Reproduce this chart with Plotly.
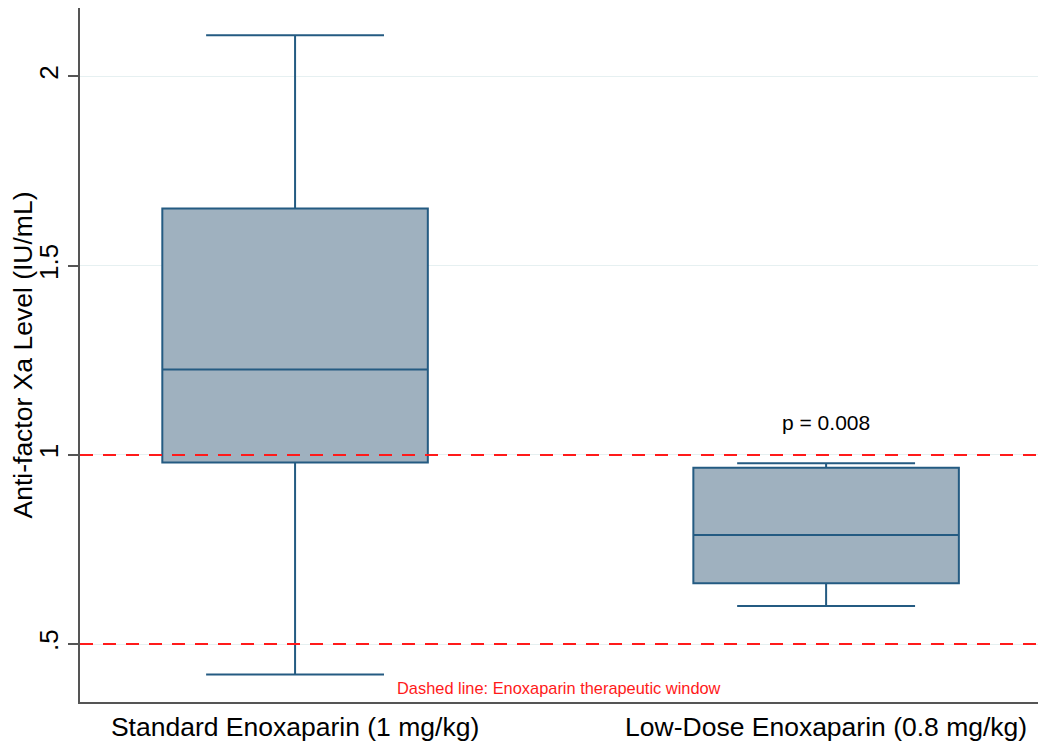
import plotly.graph_objects as go

groups = ["Standard Enoxaparin (1 mg/kg)", "Low-Dose Enoxaparin (0.8 mg/kg)"]
lower_whisker = [0.42, 0.601]
q1 = [0.98, 0.661]
median = [1.226, 0.788]
q3 = [1.651, 0.966]
upper_whisker = [2.109, 0.978]
window_lines = [1.0, 0.5]
p_text = "p = 0.008"
note_text = "Dashed line: Enoxaparin therapeutic window"

fig = go.Figure()
for i, g in enumerate(groups):
    fig.add_trace(go.Box(
        x=[g], q1=[q1[i]], median=[median[i]], q3=[q3[i]],
        lowerfence=[lower_whisker[i]], upperfence=[upper_whisker[i]],
        width=0.5, whiskerwidth=0.67,
        fillcolor="#9fb1bf",
        line=dict(color="#245b82", width=2),
        showlegend=False, boxpoints=False,
    ))

for y in window_lines:
    fig.add_hline(y=y, line=dict(color="#ff1a1a", width=2, dash="13px,10px"))

fig.add_annotation(x=groups[1], y=1.085, text=p_text, showarrow=False,
                   font=dict(size=21, color="black"))
fig.add_annotation(x=0.5, xref="paper", y=0.384, text=note_text, showarrow=False,
                   font=dict(size=16.4, color="#ff1a1a"))

# page body adds 8px offset, so the figure is sized to fit the window
fig.update_layout(
    width=1042, height=741,
    margin=dict(l=72, r=12, t=0, b=47),
    plot_bgcolor="white", paper_bgcolor="white",
    font=dict(family="Liberation Sans, Arial, sans-serif", color="black"),
)
fig.update_xaxes(
    type="category", range=[-0.405, 1.399], automargin=False,
    showline=True, linecolor="#555555", linewidth=2,
    showgrid=False, ticks="", tickfont=dict(size=26.5),
)
fig.update_yaxes(
    range=[0.347, 2.181], tickvals=[0.5, 1, 1.5, 2], ticktext=[".5", "1", "1.5", "2"],
    tickangle=-90, tickfont=dict(size=26), automargin=False,
    ticks="outside", ticklen=10, tickwidth=2, tickcolor="#555555",
    showline=True, linecolor="#555555", linewidth=2,
    showgrid=True, gridcolor="#e6f0f1", gridwidth=1, zeroline=False,
    title=dict(text="Anti-factor Xa Level (IU/mL)", font=dict(size=26.5), standoff=0),
)

fig.write_html("out.html")
